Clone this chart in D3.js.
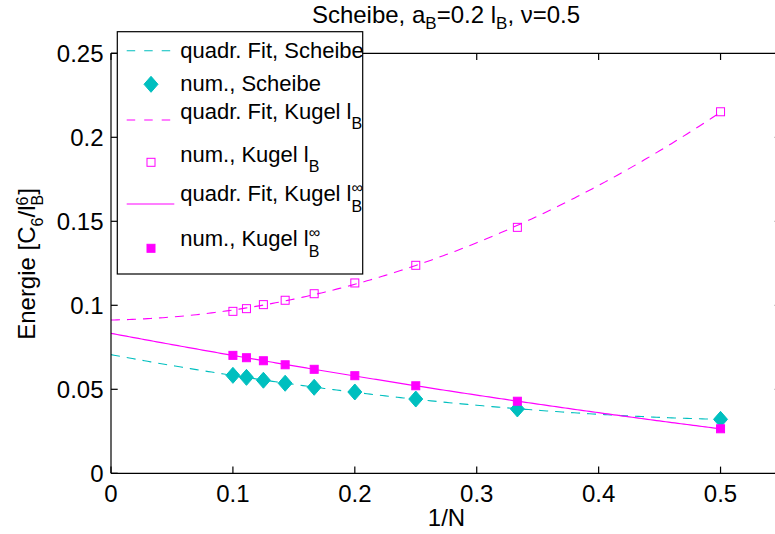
<!DOCTYPE html>
<html>
<head>
<meta charset="utf-8">
<script src="https://cdn.jsdelivr.net/npm/d3@7"></script>
<style>
  body { margin: 0; background: #fff; }
  svg { display: block; }
  text { font-family: "Liberation Sans", Arial, Helvetica, sans-serif; fill: #000; }
</style>
</head>
<body>
<svg id="chart" width="775" height="534"></svg>
<script>
// Number of segments N; the x axis shows 1/N
const N = [2, 3, 4, 5, 6, 7, 8, 9, 10];

// Energies in units of C6 / lB^6
const scheibe  = [0.0321, 0.0383, 0.0442, 0.0484, 0.0512, 0.0536, 0.0554, 0.0571, 0.0583];
const kugelLB  = [0.2152, 0.1464, 0.1238, 0.1133, 0.1069, 0.1030, 0.1004, 0.0980, 0.0964];
const kugelInf = [0.0265, 0.0429, 0.0521, 0.0581, 0.0619, 0.0646, 0.0670, 0.0688, 0.0702];

const xTicks = [0, 0.1, 0.2, 0.3, 0.4, 0.5];
const xTickLabels = ["0", "0.1", "0.2", "0.3", "0.4", "0.5"];
const yTicks = [0, 0.05, 0.1, 0.15, 0.2, 0.25];
const yTickLabels = ["0", "0.05", "0.1", "0.15", "0.2", "0.25"];

const CYAN = "#00bfbf";
const MAGENTA = "#ff00ff";

const svg = d3.select("#chart");
const plotL = 111, plotR = 781.5, plotT = 53.3, plotB = 473.3;

const x = d3.scaleLinear().domain([0, 0.55]).range([plotL, plotR]);
const y = d3.scaleLinear().domain([0, 0.25]).range([plotB, plotT]);

const invN = N.map(n => 1 / n);

// Least-squares quadratic through the computed points
function quadFit(xs, ys) {
  const S = [0, 0, 0, 0, 0], T = [0, 0, 0];
  xs.forEach((xv, i) => {
    for (let k = 0; k < 5; k++) S[k] += xv ** k;
    for (let k = 0; k < 3; k++) T[k] += ys[i] * xv ** k;
  });
  const A = [[S[0], S[1], S[2], T[0]], [S[1], S[2], S[3], T[1]], [S[2], S[3], S[4], T[2]]];
  for (let i = 0; i < 3; i++) {
    for (let j = i + 1; j < 3; j++) {
      const f = A[j][i] / A[i][i];
      for (let k = i; k < 4; k++) A[j][k] -= f * A[i][k];
    }
  }
  const c = [0, 0, 0];
  for (let i = 2; i >= 0; i--) {
    let s = A[i][3];
    for (let k = i + 1; k < 3; k++) s -= A[i][k] * c[k];
    c[i] = s / A[i][i];
  }
  return c;
}

const fitX = d3.range(0, 0.5 + 1e-9, 0.0025);
function fitCurve(ys) {
  const c = quadFit(invN, ys);
  return fitX.map(xv => [xv, c[0] + c[1] * xv + c[2] * xv * xv]);
}
const line = d3.line().x(d => x(d[0])).y(d => y(d[1]));

// Text with sub- and superscripts, built from runs
function rich(parent, runs, opt) {
  const size = opt.size, ss = opt.scriptSize;
  const g = parent.append("g");
  let cx = 0, prevStart = 0;
  runs.forEach(r => {
    const run = typeof r === "string" ? { t: r } : r;
    const scripted = run.sub !== undefined || run.sup !== undefined;
    const fs = scripted ? ss : size;
    const dy = run.sub !== undefined ? run.sub : run.sup !== undefined ? -run.sup : 0;
    const sx = run.stack ? prevStart : cx;
    const t = g.append("text").attr("x", sx).attr("y", dy)
      .attr("font-size", fs).text(run.t);
    const w = t.node().getComputedTextLength();
    if (!run.stack) { prevStart = sx; cx = sx + w; }
    else cx = Math.max(cx, sx + w);
  });
  const shift = opt.anchor === "middle" ? -cx / 2 : opt.anchor === "end" ? -cx : 0;
  g.attr("transform", `translate(${opt.x + shift},${opt.y})`);
  return g;
}

// Fitted curves
svg.append("path").attr("d", line(fitCurve(scheibe)))
  .attr("fill", "none").attr("stroke", CYAN).attr("stroke-width", 1.1)
  .attr("stroke-dasharray", "9,7");
svg.append("path").attr("d", line(fitCurve(kugelLB)))
  .attr("fill", "none").attr("stroke", MAGENTA).attr("stroke-width", 1.1)
  .attr("stroke-dasharray", "9,7");
svg.append("path").attr("d", line(fitCurve(kugelInf)))
  .attr("fill", "none").attr("stroke", MAGENTA).attr("stroke-width", 1.2);

// Markers
const diamond = (cx, cy) => `M${cx},${cy - 8}L${cx + 7},${cy}L${cx},${cy + 8}L${cx - 7},${cy}Z`;
svg.append("g").selectAll("path").data(invN).join("path")
  .attr("d", (d, i) => diamond(x(d), y(scheibe[i])))
  .attr("fill", CYAN).attr("stroke", CYAN).attr("stroke-width", 1);
svg.append("g").selectAll("rect").data(invN).join("rect")
  .attr("x", d => x(d) - 4).attr("y", (d, i) => y(kugelLB[i]) - 4)
  .attr("width", 8).attr("height", 8)
  .attr("fill", "none").attr("stroke", MAGENTA).attr("stroke-width", 1);
svg.append("g").selectAll("rect").data(invN).join("rect")
  .attr("x", d => x(d) - 4).attr("y", (d, i) => y(kugelInf[i]) - 4)
  .attr("width", 8).attr("height", 8)
  .attr("fill", MAGENTA).attr("stroke", MAGENTA).attr("stroke-width", 1);

// Axes box and inward ticks
const axisG = svg.append("g").attr("stroke", "#000").attr("stroke-width", 1.2);
axisG.append("line").attr("x1", plotL).attr("x2", plotR).attr("y1", plotB).attr("y2", plotB);
axisG.append("line").attr("x1", plotL).attr("x2", plotR).attr("y1", plotT).attr("y2", plotT);
axisG.append("line").attr("x1", plotL).attr("x2", plotL).attr("y1", plotT).attr("y2", plotB);
axisG.append("line").attr("x1", plotR).attr("x2", plotR).attr("y1", plotT).attr("y2", plotB);
const TL = 6.7;
xTicks.forEach(t => {
  axisG.append("line").attr("x1", x(t)).attr("x2", x(t)).attr("y1", plotB).attr("y2", plotB - TL);
  axisG.append("line").attr("x1", x(t)).attr("x2", x(t)).attr("y1", plotT).attr("y2", plotT + TL);
});
yTicks.forEach(t => {
  axisG.append("line").attr("x1", plotL).attr("x2", plotL + TL).attr("y1", y(t)).attr("y2", y(t));
  axisG.append("line").attr("x1", plotR).attr("x2", plotR - TL).attr("y1", y(t)).attr("y2", y(t));
});

svg.append("g").selectAll("text").data(xTicks).join("text")
  .attr("x", d => x(d)).attr("y", 502).attr("text-anchor", "middle")
  .attr("font-size", 24).text((d, i) => xTickLabels[i]);
svg.append("g").selectAll("text").data(yTicks).join("text")
  .attr("x", 103.5).attr("y", d => y(d) + 8.3).attr("text-anchor", "end")
  .attr("font-size", 24).text((d, i) => yTickLabels[i]);

// Axis labels and title
svg.append("text").attr("x", 446.5).attr("y", 525.5).attr("text-anchor", "middle")
  .attr("font-size", 24).text("1/N");

const ylab = svg.append("g").attr("transform", "translate(35,264) rotate(-90)");
rich(ylab, ["Energie [C", { t: "6", sub: 7.5 }, "/l", { t: "6", sup: 7.5 }, { t: "B", sub: 7.5, stack: true }, "]"],
  { x: 0, y: 0, anchor: "middle", size: 24, scriptSize: 16 });

rich(svg, ["Scheibe, a", { t: "B", sub: 6 }, "=0.2 l", { t: "B", sub: 6 }, ", \u03bd=0.5"],
  { x: 446, y: 23, anchor: "middle", size: 24, scriptSize: 17 });

// Legend
const legend = svg.append("g");
legend.append("rect").attr("x", 117.3).attr("y", 31.7).attr("width", 245.4).attr("height", 242.3)
  .attr("fill", "#fff").attr("stroke", "#000").attr("stroke-width", 1.2);

const lx0 = 126.7, lx1 = 174.3, mx = 151, tx = 180.3;
legend.append("line").attr("x1", lx0).attr("x2", lx1).attr("y1", 50.7).attr("y2", 50.7)
  .attr("stroke", CYAN).attr("stroke-width", 1.1).attr("stroke-dasharray", "8.5,9");
legend.append("path").attr("d", diamond(mx, 84.3)).attr("fill", CYAN).attr("stroke", CYAN);
legend.append("line").attr("x1", lx0).attr("x2", lx1).attr("y1", 120).attr("y2", 120)
  .attr("stroke", MAGENTA).attr("stroke-width", 1.1).attr("stroke-dasharray", "8.5,9");
legend.append("rect").attr("x", mx - 4).attr("y", 162.3 - 4).attr("width", 8).attr("height", 8)
  .attr("fill", "none").attr("stroke", MAGENTA);
legend.append("line").attr("x1", lx0).attr("x2", lx1).attr("y1", 204).attr("y2", 204)
  .attr("stroke", MAGENTA).attr("stroke-width", 1.2);
legend.append("rect").attr("x", mx - 4).attr("y", 248.3 - 4).attr("width", 8).attr("height", 8)
  .attr("fill", MAGENTA).attr("stroke", MAGENTA);

const LS = { size: 22, scriptSize: 16 };
rich(legend, ["quadr. Fit, Scheibe"], { ...LS, x: tx, y: 58.3 });
rich(legend, ["num., Scheibe"], { ...LS, x: tx, y: 90.7 });
rich(legend, ["quadr. Fit, Kugel l", { t: "B", sub: 10 }], { ...LS, x: tx, y: 119 });
rich(legend, ["num., Kugel l", { t: "B", sub: 10 }], { ...LS, x: tx, y: 161.7 });
rich(legend, ["quadr. Fit, Kugel l", { t: "B", sub: 11 }, { t: "\u221e", sup: 8.5, stack: true }], { ...LS, x: tx, y: 201 });
rich(legend, ["num., Kugel l", { t: "B", sub: 11 }, { t: "\u221e", sup: 8.5, stack: true }], { ...LS, x: tx, y: 246 });
</script>
</body>
</html>
